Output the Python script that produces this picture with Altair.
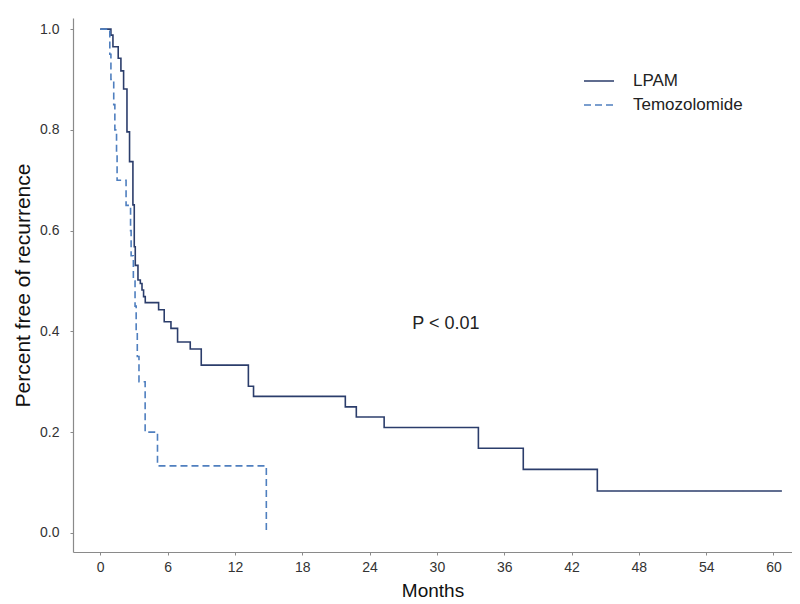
import altair as alt
import pandas as pd

groups = ["LPAM", "Temozolomide"]
colors = ["#2b3d6b", "#4f7fbf"]

lpam_months = [0, 0.95, 1.13, 1.6, 1.84, 2.08, 2.38, 2.61, 2.91, 3.03, 3.12, 3.36, 3.57, 3.72, 3.86, 4.01,
               5.2, 5.7, 6.3, 6.89, 8.02, 9.0, 13.2, 13.66, 21.84, 22.82, 25.3, 33.7, 37.7, 44.3, 60.75]
lpam_surv = [1.0, 0.988, 0.965, 0.942, 0.917, 0.881, 0.796, 0.737, 0.651, 0.568, 0.531, 0.502, 0.495, 0.482, 0.469, 0.457,
             0.443, 0.419, 0.406, 0.379, 0.365, 0.333, 0.291, 0.271, 0.25, 0.23, 0.209, 0.168, 0.126, 0.083, 0.083]

tmz_months = [0, 0.85, 0.95, 1.2, 1.3, 1.45, 1.5, 2.3, 2.7, 2.75, 2.95, 3.1, 3.2, 3.3, 3.45, 4.0, 5.1, 14.8]
tmz_surv = [1.0, 0.95, 0.90, 0.85, 0.80, 0.75, 0.70, 0.65, 0.60, 0.55, 0.50, 0.45, 0.40, 0.35, 0.30, 0.20, 0.133, 0.0]

x_ticks = [0, 6, 12, 18, 24, 30, 36, 42, 48, 54, 60]
y_ticks = [0.0, 0.2, 0.4, 0.6, 0.8, 1.0]

p_text = ["P < 0.01"]
p_month = [30.8]
p_surv = [0.415]

df = pd.concat([
    pd.DataFrame({"month": lpam_months, "surv": lpam_surv, "group": groups[0]}),
    pd.DataFrame({"month": tmz_months, "surv": tmz_surv, "group": groups[1]}),
])
ann = pd.DataFrame({"month": p_month, "surv": p_surv, "label": p_text})

FONT = "Liberation Sans"

xscale = alt.Scale(domain=[-2.43, 61.65], nice=False, zero=False)
yscale = alt.Scale(domain=[-0.038, 1.022], nice=False, zero=False)

lines = alt.Chart(df).mark_line(interpolate="step-after", strokeWidth=1.6).encode(
    x=alt.X("month:Q", scale=xscale,
            axis=alt.Axis(values=x_ticks, title="Months", labelPadding=5, titlePadding=7,
                          titleFontSize=19)),
    y=alt.Y("surv:Q", scale=yscale,
            axis=alt.Axis(values=y_ticks, format=".1f", title="Percent free of recurrence",
                          labelPadding=11, titlePadding=6, titleFontSize=21)),
    color=alt.Color("group:N", scale=alt.Scale(domain=groups, range=colors), title=None),
    strokeDash=alt.StrokeDash("group:N", scale=alt.Scale(domain=groups, range=[[1, 0], [7, 4]]), title=None),
)

text = alt.Chart(ann).mark_text(fontSize=18, font=FONT, color="#222222").encode(
    x=alt.X("month:Q", scale=xscale),
    y=alt.Y("surv:Q", scale=yscale),
    text="label:N",
)

chart = alt.layer(lines, text).properties(
    width=719, height=534,
    autosize=alt.AutoSizeParams(type="none"),
    padding={"left": 65, "top": 10, "right": 0, "bottom": 50},
).configure_view(stroke=None).configure_axis(
    grid=False, domainColor="#8a8a8a", tickColor="#8a8a8a", tickSize=3,
    labelFont=FONT, titleFont=FONT, labelFontSize=14, labelColor="#333333",
    titleColor="#111111", titleFontWeight="normal", domainWidth=1.2,
).configure_legend(
    orient="none", legendX=510, legendY=47, symbolType="stroke", symbolSize=900,
    symbolStrokeWidth=1.6, labelFontSize=17, labelFont=FONT, labelColor="#222222",
    labelOffset=18, rowPadding=-1, padding=0,
)

chart.save("out.html", embed_options={"renderer": "svg", "actions": False})
